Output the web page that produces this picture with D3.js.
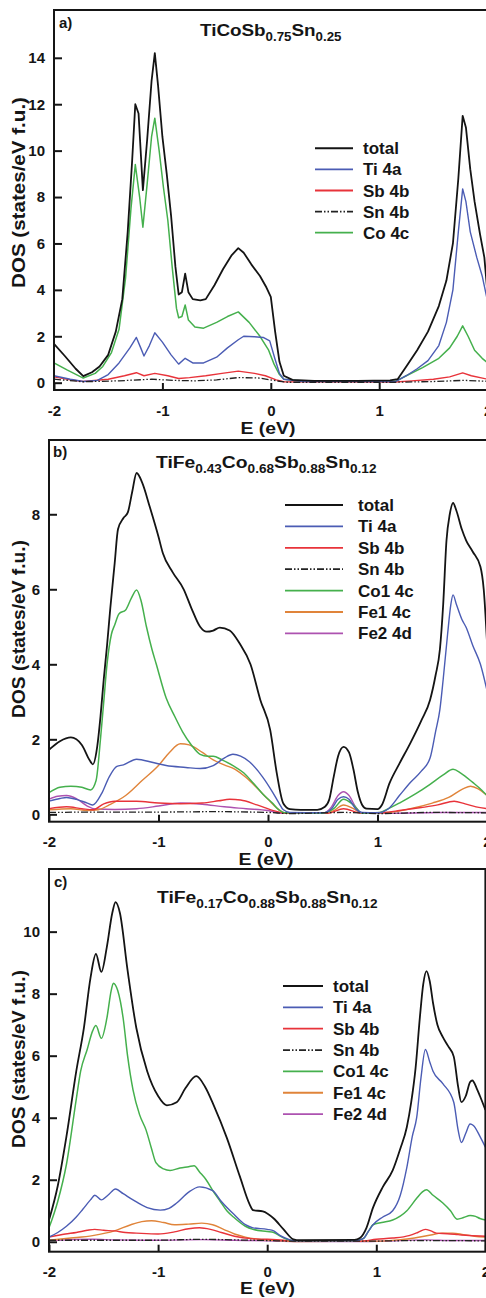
<!DOCTYPE html>
<html><head><meta charset="utf-8">
<script src="https://cdn.jsdelivr.net/npm/d3@7"></script>
<style>
body{margin:0;background:#fff}
svg{display:block}
text{font-family:"Liberation Sans",Arial,sans-serif;font-weight:bold;fill:#151515}
</style>
</head><body>
<svg id="chart" width="486" height="1298"></svg>
<script>
// ---------------- DATA ----------------
const xTicks = [-2, -1, 0, 1, 2];
const aYTicks = [0, 2, 4, 6, 8, 10, 12, 14];
const bYTicks = [0, 2, 4, 6, 8];
const cYTicks = [0, 2, 4, 6, 8, 10];

const aNames = ["total", "Ti 4a", "Sb 4b", "Sn 4b", "Co 4c"];
const bNames = ["total", "Ti 4a", "Sb 4b", "Sn 4b", "Co1 4c", "Fe1 4c", "Fe2 4d"];
const cNames = ["total", "Ti 4a", "Sb 4b", "Sn 4b", "Co1 4c", "Fe1 4c", "Fe2 4d"];

// panel a) TiCoSb0.75Sn0.25  — [E (eV), DOS]
const aTotal = [[-2,1.67],[-1.9,1.15],[-1.8,0.6],[-1.73,0.28],[-1.65,0.45],[-1.58,0.7],[-1.5,1.2],[-1.43,2.2],[-1.37,3.6],[-1.32,6.5],[-1.28,9.5],[-1.25,12.0],[-1.22,11.6],[-1.18,8.3],[-1.14,10.5],[-1.1,13.0],[-1.07,14.2],[-1.04,12.8],[-1.0,10.6],[-0.96,9.0],[-0.92,7.2],[-0.88,5.0],[-0.85,3.8],[-0.82,3.9],[-0.79,4.7],[-0.76,3.9],[-0.72,3.6],[-0.65,3.55],[-0.6,3.6],[-0.52,4.2],[-0.44,4.9],[-0.36,5.5],[-0.3,5.8],[-0.25,5.6],[-0.18,5.1],[-0.1,4.6],[-0.04,4.1],[0,3.7],[0.04,2.2],[0.08,0.9],[0.12,0.3],[0.2,0.12],[0.4,0.08],[0.8,0.08],[1.1,0.1],[1.17,0.15],[1.25,0.7],[1.35,1.4],[1.45,2.2],[1.55,3.3],[1.62,4.4],[1.68,6.0],[1.73,8.8],[1.77,11.5],[1.8,11.0],[1.84,9.2],[1.88,7.8],[1.93,6.4],[1.97,5.4],[2.0,3.8]];
const aTi = [[-2,0.3],[-1.85,0.15],[-1.73,0.05],[-1.6,0.1],[-1.5,0.35],[-1.4,0.85],[-1.3,1.5],[-1.24,1.95],[-1.2,1.5],[-1.17,1.15],[-1.12,1.6],[-1.07,2.15],[-1.0,1.75],[-0.92,1.2],[-0.85,0.8],[-0.79,1.05],[-0.72,0.85],[-0.62,0.85],[-0.5,1.1],[-0.4,1.5],[-0.3,1.85],[-0.25,2.0],[-0.15,1.98],[-0.07,1.95],[-0.01,1.8],[0.04,1.0],[0.08,0.4],[0.12,0.15],[0.3,0.05],[1.15,0.05],[1.25,0.3],[1.35,0.6],[1.45,0.95],[1.55,1.6],[1.62,2.6],[1.68,4.0],[1.73,6.5],[1.77,8.35],[1.8,7.8],[1.84,6.5],[1.9,5.4],[1.95,4.6],[2.0,3.5]];
const aSb = [[-2,0.25],[-1.85,0.12],[-1.73,0.05],[-1.5,0.15],[-1.35,0.3],[-1.24,0.43],[-1.17,0.3],[-1.07,0.4],[-0.95,0.3],[-0.85,0.18],[-0.75,0.22],[-0.6,0.3],[-0.45,0.4],[-0.3,0.5],[-0.15,0.4],[-0.05,0.3],[0.05,0.12],[0.12,0.04],[1.15,0.03],[1.3,0.08],[1.5,0.15],[1.65,0.25],[1.77,0.42],[1.85,0.3],[2.0,0.15]];
const aSn = [[-2,0.15],[-1.73,0.04],[-1.4,0.08],[-1.1,0.15],[-0.9,0.1],[-0.7,0.08],[-0.5,0.12],[-0.3,0.22],[-0.1,0.2],[0.05,0.08],[0.15,0.02],[1.15,0.02],[1.5,0.05],[1.78,0.1],[2.0,0.06]];
const aCo = [[-2,0.85],[-1.88,0.55],[-1.73,0.2],[-1.62,0.4],[-1.55,0.7],[-1.47,1.3],[-1.4,2.3],[-1.34,4.5],[-1.29,7.5],[-1.25,9.4],[-1.21,8.0],[-1.18,6.7],[-1.14,8.6],[-1.1,10.6],[-1.07,11.4],[-1.03,10.0],[-0.99,8.4],[-0.95,7.0],[-0.91,5.0],[-0.87,3.2],[-0.85,2.8],[-0.82,2.85],[-0.79,3.35],[-0.76,2.7],[-0.7,2.4],[-0.62,2.35],[-0.5,2.6],[-0.4,2.85],[-0.3,3.05],[-0.2,2.6],[-0.1,2.0],[-0.02,1.4],[0.03,0.8],[0.08,0.35],[0.12,0.15],[0.3,0.06],[1.15,0.06],[1.25,0.3],[1.4,0.65],[1.55,1.05],[1.65,1.5],[1.72,2.0],[1.77,2.45],[1.82,2.0],[1.88,1.4],[1.95,1.05],[2.0,0.85]];

// panel b) TiFe0.43Co0.68Sb0.88Sn0.12
const bTotal = [[-2,1.72],[-1.9,1.95],[-1.8,2.05],[-1.7,1.85],[-1.63,1.45],[-1.6,1.33],[-1.56,1.8],[-1.53,2.6],[-1.5,3.6],[-1.47,4.5],[-1.44,5.5],[-1.4,6.7],[-1.37,7.6],[-1.32,7.9],[-1.28,8.05],[-1.24,8.6],[-1.2,9.1],[-1.15,8.85],[-1.08,8.2],[-1.0,7.4],[-0.96,6.96],[-0.87,6.45],[-0.77,6.0],[-0.7,5.5],[-0.62,5.0],[-0.56,4.87],[-0.5,4.9],[-0.44,4.98],[-0.35,4.9],[-0.26,4.56],[-0.16,4.0],[-0.07,3.05],[0.02,2.25],[0.08,1.1],[0.14,0.29],[0.2,0.14],[0.3,0.12],[0.45,0.12],[0.52,0.2],[0.56,0.4],[0.6,1.0],[0.64,1.55],[0.69,1.8],[0.74,1.65],[0.78,1.2],[0.82,0.6],[0.86,0.25],[0.9,0.15],[1.0,0.14],[1.04,0.25],[1.11,0.83],[1.2,1.35],[1.3,1.9],[1.4,2.5],[1.48,3.05],[1.53,3.7],[1.57,4.4],[1.6,5.6],[1.63,7.3],[1.66,8.0],[1.69,8.3],[1.72,8.1],[1.77,7.6],[1.81,7.3],[1.87,7.0],[1.94,6.6],[1.97,6.0],[2.0,4.6]];
const bTi = [[-2,0.35],[-1.9,0.42],[-1.84,0.45],[-1.75,0.4],[-1.65,0.3],[-1.6,0.25],[-1.52,0.55],[-1.45,1.0],[-1.38,1.28],[-1.32,1.32],[-1.2,1.47],[-1.05,1.38],[-0.93,1.3],[-0.75,1.25],[-0.62,1.22],[-0.5,1.3],[-0.4,1.5],[-0.32,1.6],[-0.25,1.55],[-0.17,1.4],[-0.05,1.0],[0.04,0.6],[0.1,0.3],[0.14,0.12],[0.2,0.05],[0.5,0.04],[0.58,0.15],[0.64,0.4],[0.69,0.47],[0.74,0.4],[0.8,0.15],[0.86,0.05],[1.0,0.04],[1.1,0.15],[1.2,0.5],[1.3,0.85],[1.4,1.15],[1.48,1.5],[1.53,2.2],[1.57,2.8],[1.6,3.6],[1.64,4.8],[1.67,5.6],[1.69,5.85],[1.72,5.6],[1.77,5.2],[1.81,4.98],[1.87,4.5],[1.94,4.0],[2.0,3.3]];
const bSb = [[-2,0.15],[-1.84,0.2],[-1.7,0.15],[-1.6,0.12],[-1.5,0.28],[-1.4,0.35],[-1.2,0.35],[-1.0,0.3],[-0.8,0.28],[-0.6,0.3],[-0.45,0.36],[-0.35,0.4],[-0.25,0.38],[-0.1,0.25],[0.05,0.1],[0.15,0.03],[0.55,0.03],[0.69,0.15],[0.85,0.03],[1.05,0.05],[1.2,0.1],[1.4,0.18],[1.55,0.25],[1.7,0.35],[1.8,0.28],[1.9,0.2],[2.0,0.15]];
const bSn = [[-2,0.05],[-1.5,0.06],[-1,0.06],[-0.5,0.07],[0,0.05],[0.2,0.02],[0.69,0.05],[1.0,0.02],[1.5,0.05],[2.0,0.04]];
const bCo1 = [[-2,0.58],[-1.9,0.72],[-1.8,0.75],[-1.7,0.72],[-1.62,0.65],[-1.57,0.9],[-1.53,2.0],[-1.5,3.0],[-1.47,4.0],[-1.43,4.8],[-1.4,5.05],[-1.36,5.35],[-1.3,5.45],[-1.25,5.75],[-1.2,5.98],[-1.16,5.7],[-1.11,5.0],[-1.06,4.4],[-1.02,4.0],[-0.93,3.1],[-0.85,2.6],[-0.78,2.2],[-0.7,1.85],[-0.62,1.6],[-0.55,1.55],[-0.5,1.55],[-0.42,1.45],[-0.32,1.3],[-0.22,1.1],[-0.14,0.85],[-0.05,0.55],[0.04,0.3],[0.1,0.12],[0.15,0.04],[0.5,0.03],[0.6,0.15],[0.69,0.4],[0.78,0.25],[0.86,0.03],[1.02,0.05],[1.1,0.15],[1.2,0.3],[1.35,0.55],[1.48,0.8],[1.6,1.05],[1.69,1.2],[1.76,1.1],[1.87,0.85],[1.95,0.65],[2.0,0.5]];
const bFe1 = [[-2,0.12],[-1.8,0.15],[-1.65,0.1],[-1.55,0.12],[-1.45,0.25],[-1.3,0.5],[-1.15,0.9],[-1.0,1.3],[-0.9,1.65],[-0.8,1.88],[-0.72,1.85],[-0.6,1.65],[-0.5,1.45],[-0.4,1.32],[-0.3,1.2],[-0.2,0.98],[-0.1,0.7],[0.0,0.4],[0.1,0.12],[0.15,0.04],[0.5,0.03],[0.6,0.1],[0.69,0.25],[0.78,0.15],[0.86,0.03],[1.1,0.05],[1.3,0.15],[1.5,0.3],[1.65,0.45],[1.78,0.68],[1.85,0.75],[1.92,0.68],[2.0,0.5]];
const bFe2 = [[-2,0.4],[-1.92,0.48],[-1.84,0.5],[-1.75,0.42],[-1.65,0.22],[-1.58,0.14],[-1.4,0.13],[-1.2,0.15],[-1.0,0.22],[-0.8,0.3],[-0.6,0.27],[-0.4,0.2],[-0.2,0.15],[0.0,0.1],[0.12,0.03],[0.5,0.03],[0.58,0.2],[0.64,0.5],[0.69,0.6],[0.74,0.5],[0.8,0.2],[0.86,0.03],[1.2,0.03],[1.6,0.05],[2.0,0.05]];

// panel c) TiFe0.17Co0.88Sb0.88Sn0.12
const cTotal = [[-2,0.7],[-1.92,1.8],[-1.84,3.4],[-1.75,5.5],[-1.68,6.9],[-1.62,8.5],[-1.57,9.28],[-1.52,8.7],[-1.47,9.5],[-1.42,10.6],[-1.39,10.95],[-1.35,10.6],[-1.28,8.76],[-1.2,6.9],[-1.1,5.5],[-1.0,4.7],[-0.92,4.4],[-0.83,4.5],[-0.75,4.95],[-0.65,5.34],[-0.57,5.0],[-0.49,4.4],[-0.37,3.35],[-0.25,2.1],[-0.16,1.2],[-0.13,1.02],[-0.04,0.98],[0.06,0.75],[0.15,0.4],[0.24,0.08],[0.3,0.05],[0.8,0.06],[0.85,0.12],[0.91,0.45],[0.97,1.1],[1.06,1.77],[1.15,2.3],[1.22,3.0],[1.28,3.7],[1.32,4.5],[1.36,5.6],[1.4,7.26],[1.43,8.3],[1.46,8.73],[1.49,8.4],[1.52,7.7],[1.56,7.0],[1.61,6.6],[1.66,6.3],[1.71,5.97],[1.75,5.0],[1.78,4.5],[1.82,4.7],[1.86,5.15],[1.88,5.2],[1.92,4.95],[1.95,4.7],[2.0,4.25]];
const cTi = [[-2,0.15],[-1.92,0.3],[-1.84,0.5],[-1.75,0.8],[-1.69,1.05],[-1.62,1.35],[-1.58,1.5],[-1.52,1.35],[-1.46,1.5],[-1.39,1.7],[-1.32,1.55],[-1.23,1.35],[-1.1,1.1],[-0.98,1.02],[-0.9,1.08],[-0.83,1.25],[-0.72,1.6],[-0.62,1.77],[-0.5,1.65],[-0.42,1.3],[-0.31,0.9],[-0.2,0.55],[-0.13,0.45],[0.0,0.4],[0.06,0.35],[0.12,0.2],[0.18,0.1],[0.25,0.03],[0.8,0.03],[0.88,0.1],[0.93,0.35],[0.97,0.55],[1.06,0.8],[1.15,1.0],[1.22,1.5],[1.28,2.4],[1.33,3.4],[1.37,4.0],[1.41,5.3],[1.45,6.2],[1.49,5.8],[1.52,5.5],[1.61,5.1],[1.71,4.5],[1.75,3.6],[1.78,3.2],[1.82,3.5],[1.86,3.8],[1.89,3.75],[1.95,3.4],[2.0,3.05]];
const cSb = [[-2,0.15],[-1.85,0.25],[-1.75,0.3],[-1.65,0.37],[-1.58,0.4],[-1.5,0.37],[-1.4,0.35],[-1.3,0.3],[-1.2,0.28],[-1.0,0.25],[-0.85,0.32],[-0.72,0.42],[-0.62,0.45],[-0.52,0.4],[-0.42,0.3],[-0.3,0.18],[-0.15,0.1],[0.0,0.08],[0.15,0.05],[0.25,0.02],[0.85,0.02],[1.0,0.08],[1.15,0.12],[1.3,0.2],[1.38,0.3],[1.45,0.4],[1.5,0.35],[1.55,0.28],[1.65,0.26],[1.75,0.23],[1.85,0.2],[2.0,0.18]];
const cSn = [[-2,0.05],[-1.5,0.05],[-1.0,0.05],[-0.6,0.08],[-0.3,0.06],[0,0.04],[0.25,0.02],[0.9,0.02],[1.4,0.04],[2.0,0.03]];
const cCo1 = [[-2,0.45],[-1.92,1.3],[-1.84,2.5],[-1.75,4.6],[-1.71,5.5],[-1.65,6.2],[-1.6,6.8],[-1.57,6.97],[-1.52,6.56],[-1.47,7.2],[-1.43,8.1],[-1.41,8.34],[-1.37,8.1],[-1.32,7.2],[-1.28,6.0],[-1.23,4.9],[-1.17,4.1],[-1.11,3.6],[-1.06,3.0],[-1.02,2.55],[-0.95,2.35],[-0.89,2.3],[-0.8,2.38],[-0.72,2.42],[-0.67,2.45],[-0.62,2.25],[-0.56,2.0],[-0.49,1.6],[-0.43,1.3],[-0.37,1.0],[-0.31,0.8],[-0.2,0.5],[-0.13,0.4],[0.0,0.33],[0.06,0.3],[0.12,0.18],[0.18,0.08],[0.25,0.03],[0.8,0.03],[0.88,0.1],[0.93,0.35],[0.97,0.55],[1.05,0.62],[1.15,0.7],[1.28,1.0],[1.37,1.4],[1.42,1.6],[1.46,1.68],[1.52,1.5],[1.61,1.25],[1.68,1.0],[1.74,0.73],[1.8,0.78],[1.86,0.85],[1.91,0.82],[1.95,0.75],[2.0,0.7]];
const cFe1 = [[-2,0.05],[-1.8,0.12],[-1.6,0.2],[-1.4,0.35],[-1.25,0.55],[-1.15,0.65],[-1.06,0.68],[-0.95,0.62],[-0.85,0.55],[-0.72,0.57],[-0.6,0.6],[-0.5,0.55],[-0.4,0.4],[-0.3,0.25],[-0.2,0.15],[-0.05,0.07],[0.1,0.04],[0.25,0.01],[1.0,0.02],[1.2,0.06],[1.35,0.12],[1.5,0.22],[1.6,0.28],[1.7,0.28],[1.8,0.23],[1.9,0.18],[2.0,0.15]];
const cFe2 = [[-2,0.04],[-1.6,0.08],[-1.4,0.06],[-1.0,0.05],[-0.6,0.07],[-0.3,0.05],[0,0.03],[0.25,0.01],[0.9,0.01],[1.45,0.06],[1.7,0.04],[2.0,0.04]];

// ---------------- STYLE ----------------
const styles = {
  "total":  {c:"#141414", w:1.8},
  "Ti 4a":  {c:"#4b5cb4", w:1.4},
  "Sb 4b":  {c:"#e8333a", w:1.4},
  "Sn 4b":  {c:"#222222", w:1.3, d:"7,2,1.5,2,1.5,2"},
  "Co 4c":  {c:"#45b04d", w:1.5},
  "Co1 4c": {c:"#45b04d", w:1.5},
  "Fe1 4c": {c:"#e0843a", w:1.4},
  "Fe2 4d": {c:"#ad52b0", w:1.4}
};
const drawOrder = ["Fe2 4d","Fe1 4c","Sb 4b","Co 4c","Co1 4c","Ti 4a","Sn 4b","total"];

const panels = [
  {id:"a", label:"a)", names:aNames, series:{"total":aTotal,"Ti 4a":aTi,"Sb 4b":aSb,"Sn 4b":aSn,"Co 4c":aCo},
   yTicks:aYTicks, curve:d3.curveLinear,
   left:54, right:487.6, top:10, bottom:390, yMin:-0.315, yMax:16.06,
   title:[["TiCoSb",0],["0.75",1],["Sn",0],["0.25",1]], titleX:200, titleW:142, titleY:36,
   labX:59, labY:28, legX1:315, legX2:353, legTX:363, legY:148.3, legDY:21.1,
   xtY:434, xtX:268, ytY:192.5, ytW:191},
  {id:"b", label:"b)", names:bNames, series:{"total":bTotal,"Ti 4a":bTi,"Sb 4b":bSb,"Sn 4b":bSn,"Co1 4c":bCo1,"Fe1 4c":bFe1,"Fe2 4d":bFe2},
   yTicks:bYTicks, curve:d3.curveMonotoneX,
   left:49, right:487, top:440, bottom:821.7, yMin:-0.197, yMax:9.98,
   title:[["TiFe",0],["0.43",1],["Co",0],["0.68",1],["Sb",0],["0.88",1],["Sn",0],["0.12",1]], titleX:156, titleW:221, titleY:468,
   labX:53, labY:457, legX1:285, legX2:343, legTX:358, legY:505, legDY:21.4,
   xtY:864.5, xtX:266, ytY:629, ytW:178},
  {id:"c", label:"c)", names:cNames, series:{"total":cTotal,"Ti 4a":cTi,"Sb 4b":cSb,"Sn 4b":cSn,"Co1 4c":cCo1,"Fe1 4c":cFe1,"Fe2 4d":cFe2},
   yTicks:cYTicks, curve:d3.curveMonotoneX,
   left:49, right:485.4, top:869, bottom:1251.7, yMin:-0.32, yMax:12.02,
   title:[["TiFe",0],["0.17",1],["Co",0],["0.88",1],["Sb",0],["0.88",1],["Sn",0],["0.12",1]], titleX:157, titleW:221, titleY:903,
   labX:54, labY:887, legX1:283, legX2:323, legTX:333, legY:986, legDY:21.35,
   xtY:1294, xtX:267.5, ytY:1059, ytW:178}
];

const svg = d3.select("#chart");
svg.append("rect").attr("width",486).attr("height",1298).attr("fill","#fff");

function fitH(sel, x, y, w){
  const bw = sel.node().getBBox().width;
  sel.attr("transform", `translate(${x},${y}) scale(${w/bw},1)`);
}

panels.forEach(p => {
  const g = svg.append("g");
  const x = d3.scaleLinear().domain([-2,2]).range([p.left, p.right]);
  const y = d3.scaleLinear().domain([p.yMin, p.yMax]).range([p.bottom, p.top]);

  const clipId = "clip-" + p.id;
  g.append("clipPath").attr("id", clipId).append("rect")
    .attr("x", p.left).attr("y", p.top).attr("width", p.right - p.left).attr("height", p.bottom - p.top);

  // curves
  const line = d3.line().x(d => x(d[0])).y(d => y(d[1])).curve(p.curve);
  const cg = g.append("g").attr("clip-path", `url(#${clipId})`);
  drawOrder.filter(n => p.series[n]).forEach(n => {
    const s = styles[n];
    cg.append("path").datum(p.series[n])
      .attr("d", line).attr("fill","none")
      .attr("stroke", s.c).attr("stroke-width", s.w)
      .attr("stroke-linejoin","round")
      .attr("stroke-dasharray", s.d || null);
  });

  // axes (inward ticks)
  const ya = d3.axisLeft(y).tickValues(p.yTicks).tickSizeInner(-8).tickSizeOuter(0).tickPadding(9).tickFormat(d3.format("d"));
  const yg = g.append("g").attr("transform", `translate(${p.left},0)`).call(ya);
  const xa = d3.axisBottom(x).tickValues(xTicks).tickSizeInner(-7).tickSizeOuter(0).tickPadding(15).tickFormat(d3.format("d"));
  const xg = g.append("g").attr("transform", `translate(0,${p.bottom})`).call(xa);
  [yg, xg].forEach(a => {
    a.select(".domain").remove();
    a.selectAll(".tick line").attr("stroke","#151515").attr("stroke-width",2);
    a.selectAll(".tick text").attr("font-size",15).attr("font-weight","bold")
      .attr("font-family",'"Liberation Sans",Arial,sans-serif').attr("fill","#151515");
  });
  xg.selectAll(".tick text").text(d => d < 0 ? "-" + Math.abs(d) : d);

  // frame
  g.append("rect").attr("x", p.left).attr("y", p.top)
    .attr("width", p.right - p.left).attr("height", p.bottom - p.top)
    .attr("fill","none").attr("stroke","#151515").attr("stroke-width",2);

  // panel label
  g.append("text").attr("x", p.labX).attr("y", p.labY).attr("font-size",15).text(p.label);

  // title with subscripts
  const t = g.append("text").attr("font-size",17);
  p.title.forEach(([s, sub], i) => {
    const ts = t.append("tspan").text(s);
    if (sub) ts.attr("font-size",12).attr("dy", 5);
    else if (i > 0) ts.attr("dy", -5);
  });
  fitH(t, p.titleX, p.titleY, p.titleW);

  // legend
  p.names.forEach((n, i) => {
    const s = styles[n];
    const yy = p.legY + i * p.legDY;
    g.append("line").attr("x1", p.legX1).attr("x2", p.legX2).attr("y1", yy).attr("y2", yy)
      .attr("stroke", s.c).attr("stroke-width", n === "total" ? 2 : 1.8)
      .attr("stroke-dasharray", s.d || null);
    g.append("text").attr("x", p.legTX).attr("y", yy + 6).attr("font-size",17).text(n);
  });

  // axis titles
  const xt = g.append("text").attr("font-size",17).attr("text-anchor","middle").text("E (eV)");
  const bw = xt.node().getBBox().width;
  xt.attr("transform", `translate(${p.xtX},${p.xtY}) scale(${55/bw},1)`);

  const yt = g.append("text").attr("font-size",18).attr("text-anchor","middle").text("DOS (states/eV f.u.)");
  const bw2 = yt.node().getBBox().width;
  yt.attr("transform", `translate(25,${p.ytY}) rotate(-90) scale(${p.ytW/bw2},1)`);
});
</script>
</body></html>
